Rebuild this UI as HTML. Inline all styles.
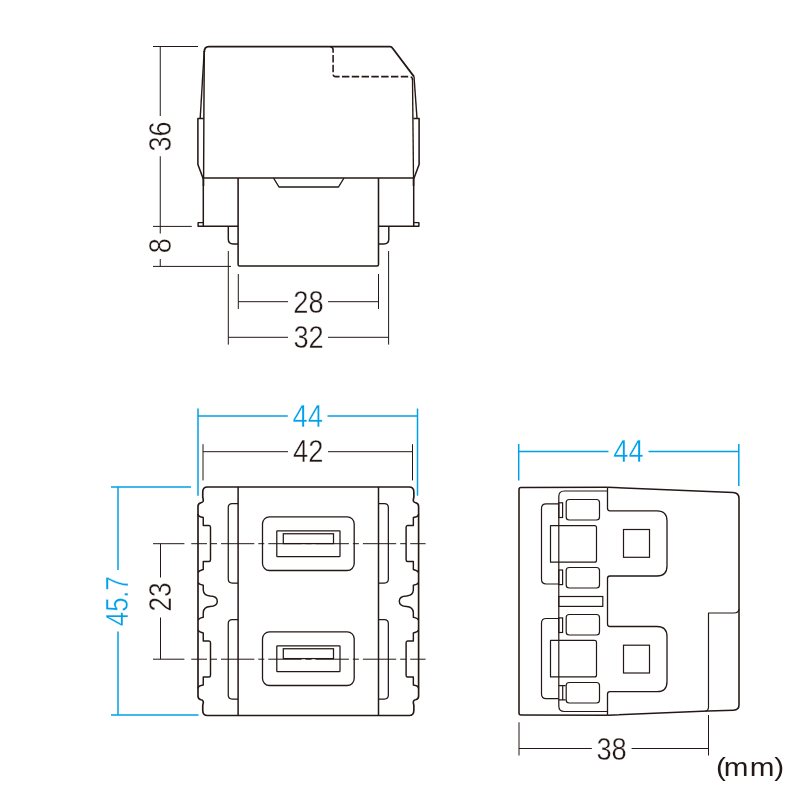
<!DOCTYPE html>
<html lang="en">
<head>
<meta charset="utf-8">
<style>
html,body{margin:0;padding:0;background:#fff;}
body{width:800px;height:800px;overflow:hidden;}
svg{display:block;}
text{font-family:"Liberation Sans","Noto Sans CJK JP",sans-serif;}
</style>
</head>
<body>
<svg width="800" height="800" viewBox="0 0 800 800">
<rect x="0" y="0" width="800" height="800" fill="#fff"/>
<g opacity="0.999">
<text transform="translate(171.0,136.4) rotate(-90) scale(0.845,1)" font-size="32" fill="#231815" text-anchor="middle" stroke="#fff" stroke-width="0.38">36</text>
<text transform="translate(171.0,245.8) rotate(-90) scale(0.845,1)" font-size="32" fill="#231815" text-anchor="middle" stroke="#fff" stroke-width="0.38">8</text>
<text transform="translate(308.4,312.9) scale(0.88,1)" font-size="31.0" fill="#231815" text-anchor="middle" stroke="#fff" stroke-width="0.38">28</text>
<text transform="translate(308.6,347.7) scale(0.88,1)" font-size="31.0" fill="#231815" text-anchor="middle" stroke="#fff" stroke-width="0.38">32</text>
<text transform="translate(307.7,427.2) scale(0.88,1)" font-size="31.0" fill="#00a0e9" text-anchor="middle" stroke="#fff" stroke-width="0.38">44</text>
<text transform="translate(308.2,461.9) scale(0.88,1)" font-size="31.0" fill="#231815" text-anchor="middle" stroke="#fff" stroke-width="0.38">42</text>
<text transform="translate(128,601.2) rotate(-90) scale(0.8,1)" font-size="32" fill="#00a0e9" text-anchor="middle" stroke="#fff" stroke-width="0.38">45.7</text>
<text transform="translate(171.2,597) rotate(-90) scale(0.82,1)" font-size="32" fill="#231815" text-anchor="middle" stroke="#fff" stroke-width="0.38">23</text>
<text transform="translate(628.4,462) scale(0.88,1)" font-size="31.0" fill="#00a0e9" text-anchor="middle" stroke="#fff" stroke-width="0.38">44</text>
<text transform="translate(611.6,759.6) scale(0.88,1)" font-size="31.0" fill="#231815" text-anchor="middle" stroke="#fff" stroke-width="0.38">38</text>
<text transform="translate(0,776.1) scale(1.12,1)" font-size="26.5" fill="#231815" x="639.29 646.16 669.38 691.34">(mm)</text>
</g>
<line x1="153" y1="46.5" x2="198" y2="46.5" stroke="#231815" stroke-width="1.0" />
<line x1="153" y1="226.4" x2="191.75" y2="226.4" stroke="#231815" stroke-width="1.0" />
<line x1="153" y1="266.4" x2="231" y2="266.4" stroke="#231815" stroke-width="1.0" />
<line x1="160.25" y1="46.5" x2="160.25" y2="116" stroke="#231815" stroke-width="1.0" />
<line x1="160.25" y1="156.25" x2="160.25" y2="233.5" stroke="#231815" stroke-width="1.0" />
<line x1="160.25" y1="259" x2="160.25" y2="266.4" stroke="#231815" stroke-width="1.0" />
<line x1="238.3" y1="301.7" x2="288" y2="301.7" stroke="#231815" stroke-width="1.0" />
<line x1="328" y1="301.7" x2="378.5" y2="301.7" stroke="#231815" stroke-width="1.0" />
<line x1="238.3" y1="274" x2="238.3" y2="309" stroke="#231815" stroke-width="1.0" />
<line x1="378.5" y1="274" x2="378.5" y2="309" stroke="#231815" stroke-width="1.0" />
<line x1="228.3" y1="337.3" x2="288" y2="337.3" stroke="#231815" stroke-width="1.0" />
<line x1="328" y1="337.3" x2="388.6" y2="337.3" stroke="#231815" stroke-width="1.0" />
<line x1="228.3" y1="251" x2="228.3" y2="344.6" stroke="#231815" stroke-width="1.0" />
<line x1="388.6" y1="251" x2="388.6" y2="344.6" stroke="#231815" stroke-width="1.0" />
<path d="M204.3,52 Q204.3,46.7 208.8,46.7 L390,46.7 Q391.6,46.7 392.6,48.3 L414,76.6" fill="none" stroke="#231815" stroke-width="1.8" stroke-linejoin="round" stroke-linecap="butt" />
<path d="M204.3,51 L203.9,110 L203.6,178" fill="none" stroke="#231815" stroke-width="1.45" stroke-linejoin="round" stroke-linecap="butt" />
<path d="M204.2,51 L200.2,118.3" fill="none" stroke="#231815" stroke-width="1.4" stroke-linejoin="round" stroke-linecap="butt" />
<path d="M203.8,118.4 L197.9,118.4 L197.9,164.5 L203.5,179.5 L203.5,186" fill="none" stroke="#231815" stroke-width="1.55" stroke-linejoin="round" stroke-linecap="butt" />
<path d="M203.3,178 L203.3,226.3" fill="none" stroke="#231815" stroke-width="1.5" stroke-linejoin="round" stroke-linecap="butt" />
<path d="M203.3,222.6 L198.1,222.6 L198.1,226.3 L238.1,226.3" fill="none" stroke="#231815" stroke-width="1.45" stroke-linejoin="round" stroke-linecap="butt" />
<line x1="203.5" y1="178.05" x2="413.5" y2="178.05" stroke="#231815" stroke-width="1.5" />
<path d="M238.1,178 L238.1,264.5 Q238.1,266 239.6,266 L377,266 Q378.5,266 378.5,264.5 L378.5,178" fill="none" stroke="#231815" stroke-width="1.55" stroke-linejoin="round" stroke-linecap="butt" />
<path d="M273.5,178 L279,187 L338.5,187 L344,178" fill="none" stroke="#231815" stroke-width="1.4" stroke-linejoin="round" stroke-linecap="butt" />
<path d="M228.3,226.3 L228.3,239 Q228.3,244 233.3,244 L238.1,244" fill="none" stroke="#231815" stroke-width="1.45" stroke-linejoin="round" stroke-linecap="butt" />
<path d="M388.8,226.3 L388.8,239 Q388.8,244 383.8,244 L378.5,244" fill="none" stroke="#231815" stroke-width="1.45" stroke-linejoin="round" stroke-linecap="butt" />
<path d="M414,76.5 L417,118.3" fill="none" stroke="#231815" stroke-width="1.4" stroke-linejoin="round" stroke-linecap="butt" />
<path d="M412.5,79 L413.5,178" fill="none" stroke="#231815" stroke-width="1.35" stroke-linejoin="round" stroke-linecap="butt" />
<path d="M413.3,118.4 L419.1,118.4 L419.1,164.5 L413.5,179.5 L413.5,186" fill="none" stroke="#231815" stroke-width="1.55" stroke-linejoin="round" stroke-linecap="butt" />
<path d="M413.7,178 L413.7,226.3" fill="none" stroke="#231815" stroke-width="1.5" stroke-linejoin="round" stroke-linecap="butt" />
<path d="M413.7,222.6 L418.9,222.6 L418.9,226.3 L378.5,226.3" fill="none" stroke="#231815" stroke-width="1.45" stroke-linejoin="round" stroke-linecap="butt" />
<path d="M330.3,46.7 Q333.1,46.9 333.1,50 L333.1,74.1 Q333.1,76.6 335.6,76.6 L409.6,76.6 Q412.3,76.6 412.6,79.6" fill="none" stroke="#231815" stroke-width="1.55" stroke-linejoin="round" stroke-linecap="butt" stroke-dasharray="7.4 2.4"/>
<line x1="198" y1="416" x2="287.8" y2="416" stroke="#00a0e9" stroke-width="1.5" />
<line x1="327.5" y1="416" x2="417.5" y2="416" stroke="#00a0e9" stroke-width="1.5" />
<line x1="198" y1="408.5" x2="198" y2="495.7" stroke="#00a0e9" stroke-width="1.5" />
<line x1="417.5" y1="408.5" x2="417.5" y2="495.7" stroke="#00a0e9" stroke-width="1.5" />
<line x1="118" y1="487" x2="118" y2="570" stroke="#00a0e9" stroke-width="1.5" />
<line x1="118" y1="631.5" x2="118" y2="715" stroke="#00a0e9" stroke-width="1.5" />
<line x1="111" y1="487" x2="191" y2="487" stroke="#00a0e9" stroke-width="1.5" />
<line x1="111" y1="715" x2="198.5" y2="715" stroke="#00a0e9" stroke-width="1.5" />
<line x1="203" y1="451.7" x2="288" y2="451.7" stroke="#231815" stroke-width="1.0" />
<line x1="328" y1="451.7" x2="412.5" y2="451.7" stroke="#231815" stroke-width="1.0" />
<line x1="203" y1="444.2" x2="203" y2="480.4" stroke="#231815" stroke-width="1.0" />
<line x1="412.5" y1="444.2" x2="412.5" y2="480.4" stroke="#231815" stroke-width="1.0" />
<line x1="160.5" y1="543.7" x2="160.5" y2="577.5" stroke="#231815" stroke-width="1.0" />
<line x1="160.5" y1="617.5" x2="160.5" y2="659.2" stroke="#231815" stroke-width="1.0" />
<line x1="153" y1="543.7" x2="184.4" y2="543.7" stroke="#231815" stroke-width="1.0" />
<line x1="191.25" y1="543.7" x2="425.6" y2="543.7" stroke="#231815" stroke-width="1.0" stroke-dasharray="33.3 4 6 4" stroke-dashoffset="17.55"/>
<line x1="153" y1="659.2" x2="184.4" y2="659.2" stroke="#231815" stroke-width="1.0" />
<line x1="191.25" y1="659.2" x2="425.6" y2="659.2" stroke="#231815" stroke-width="1.0" stroke-dasharray="33.3 4 6 4" stroke-dashoffset="17.55"/>
<path d="M207.5,487 L409.1,487 Q413.85,487 413.85,492 L413.85,497.3 Q413.0,500 413.5,501.3 Q414.0,502.5 415.6,502.7 Q418.6,503.3 418.6,506.5 L418.6,696.0 Q418.6,699.2 415.6,699.8 Q414.0,700.0 413.5,701.2 Q413.0,702.5 413.85,705.2 L413.85,710.5 Q413.85,715.5 409.1,715.5 L207.5,715.5 Q202.75,715.5 202.75,710.5 L202.75,705.2 Q203.6,702.5 203.1,701.2 Q202.6,700.0 201,699.8 Q198,699.2 198,696.0 L198,506.5 Q198,503.3 201,502.7 Q202.6,502.5 203.1,501.3 Q203.6,500 202.75,497.3 L202.75,492 Q202.75,487 207.5,487 Z" fill="none" stroke="#231815" stroke-width="1.65" stroke-linejoin="round" stroke-linecap="butt" />
<path d="M198.2,582.4 Q198.8,584 201,584.6 L203.25,585.2 L203.25,590 Q203.6,595.6 210,596 Q217.3,596.2 217.3,601.25 Q217.3,606.3 210,606.5 Q203.6,606.9 203.25,612.5 L203.25,617.3 L201,617.9 Q198.8,618.5 198.2,620.1" fill="none" stroke="#231815" stroke-width="1.45" stroke-linejoin="round" stroke-linecap="butt" />
<path d="M418.4,582.4 Q417.8,584 415.6,584.6 L413.35,585.2 L413.35,590 Q413.0,595.6 406.6,596 Q399.3,596.2 399.3,601.25 Q399.3,606.3 406.6,606.5 Q413.0,606.9 413.35,612.5 L413.35,617.3 L415.6,617.9 Q417.8,618.5 418.4,620.1" fill="none" stroke="#231815" stroke-width="1.45" stroke-linejoin="round" stroke-linecap="butt" />
<path d="M 198,514 Q 198.3,516.6 201,517 L 203.25,517.5 L 203.25,525.5 L 209,525.5 Q 210.5,525.5 210.5,527.3 L 210.5,559.7 Q 210.5,561.5 209,561.5 L 203.25,561.5 L 203.25,569.5 L 201,570.2 Q 198.8,570.8 198.2,572.6" fill="none" stroke="#231815" stroke-width="1.45" stroke-linejoin="round" stroke-linecap="butt" />
<path d="M 238.1,503.5 L 232.25,503.5 Q 228.25,503.5 228.25,507.5 L 228.25,579 Q 228.25,583 232.25,583 L 238.1,583" fill="none" stroke="#231815" stroke-width="1.25" stroke-linejoin="round" stroke-linecap="butt" />
<path d="M 198,688.5 Q 198.3,685.9 201,685.5 L 203.25,685.0 L 203.25,677.0 L 209,677.0 Q 210.5,677.0 210.5,675.2 L 210.5,642.8 Q 210.5,641.0 209,641.0 L 203.25,641.0 L 203.25,633.0 L 201,632.3 Q 198.8,631.7 198.2,629.9" fill="none" stroke="#231815" stroke-width="1.45" stroke-linejoin="round" stroke-linecap="butt" />
<path d="M 238.1,699.0 L 232.25,699.0 Q 228.25,699.0 228.25,695.0 L 228.25,623.5 Q 228.25,619.5 232.25,619.5 L 238.1,619.5" fill="none" stroke="#231815" stroke-width="1.25" stroke-linejoin="round" stroke-linecap="butt" />
<line x1="238.1" y1="487" x2="238.1" y2="715.5" stroke="#231815" stroke-width="1.5" />
<path d="M 418.6,514 Q 418.3,516.6 415.6,517 L 413.35,517.5 L 413.35,525.5 L 407.6,525.5 Q 406.1,525.5 406.1,527.3 L 406.1,559.7 Q 406.1,561.5 407.6,561.5 L 413.35,561.5 L 413.35,569.5 L 415.6,570.2 Q 417.8,570.8 418.4,572.6" fill="none" stroke="#231815" stroke-width="1.45" stroke-linejoin="round" stroke-linecap="butt" />
<path d="M 378.5,503.5 L 384.35,503.5 Q 388.35,503.5 388.35,507.5 L 388.35,579 Q 388.35,583 384.35,583 L 378.5,583" fill="none" stroke="#231815" stroke-width="1.25" stroke-linejoin="round" stroke-linecap="butt" />
<path d="M 418.6,688.5 Q 418.3,685.9 415.6,685.5 L 413.35,685.0 L 413.35,677.0 L 407.6,677.0 Q 406.1,677.0 406.1,675.2 L 406.1,642.8 Q 406.1,641.0 407.6,641.0 L 413.35,641.0 L 413.35,633.0 L 415.6,632.3 Q 417.8,631.7 418.4,629.9" fill="none" stroke="#231815" stroke-width="1.45" stroke-linejoin="round" stroke-linecap="butt" />
<path d="M 378.5,699.0 L 384.35,699.0 Q 388.35,699.0 388.35,695.0 L 388.35,623.5 Q 388.35,619.5 384.35,619.5 L 378.5,619.5" fill="none" stroke="#231815" stroke-width="1.25" stroke-linejoin="round" stroke-linecap="butt" />
<line x1="378.5" y1="487" x2="378.5" y2="715.5" stroke="#231815" stroke-width="1.5" />
<rect x="262.5" y="516.8" width="91.7" height="53.7" rx="7" ry="7" fill="none" stroke="#231815" stroke-width="1.3"/>
<rect x="276.8" y="530.75" width="63.2" height="25.95" rx="0.6" ry="0.6" fill="none" stroke="#231815" stroke-width="1.25"/>
<rect x="283.3" y="533.75" width="50.2" height="9.85" rx="0" ry="0" fill="none" stroke="#231815" stroke-width="1.25"/>
<rect x="262.5" y="631.8" width="91.7" height="53.7" rx="7" ry="7" fill="none" stroke="#231815" stroke-width="1.3"/>
<rect x="276.8" y="645.75" width="63.2" height="25.95" rx="0.6" ry="0.6" fill="none" stroke="#231815" stroke-width="1.25"/>
<rect x="283.3" y="648.75" width="50.2" height="9.85" rx="0" ry="0" fill="none" stroke="#231815" stroke-width="1.25"/>
<line x1="518.7" y1="451.5" x2="608.5" y2="451.5" stroke="#00a0e9" stroke-width="1.5" />
<line x1="648.5" y1="451.5" x2="738.8" y2="451.5" stroke="#00a0e9" stroke-width="1.5" />
<line x1="518.7" y1="444" x2="518.7" y2="480.5" stroke="#00a0e9" stroke-width="1.5" />
<line x1="738.8" y1="444" x2="738.8" y2="486" stroke="#00a0e9" stroke-width="1.5" />
<line x1="519" y1="748.5" x2="591.8" y2="748.5" stroke="#231815" stroke-width="1.0" />
<line x1="631.6" y1="748.5" x2="708.5" y2="748.5" stroke="#231815" stroke-width="1.0" />
<line x1="519" y1="722.3" x2="519" y2="755.5" stroke="#231815" stroke-width="1.0" />
<line x1="708.5" y1="715" x2="708.5" y2="755.5" stroke="#231815" stroke-width="1.0" />
<path d="M607.5,487.2 L521,487.4 Q519,487.4 519,489.4 L519,713 Q519,715 521,715 L607.5,715.2" fill="none" stroke="#231815" stroke-width="1.55" stroke-linejoin="round" stroke-linecap="butt" />
<path d="M607.5,487.2 L733,492.6 Q739,492.9 739,498.5 L739,705 Q739,710 733.5,710.2 L708,711 L607.5,715.2" fill="none" stroke="#231815" stroke-width="1.55" stroke-linejoin="round" stroke-linecap="butt" />
<path d="M739,609 Q738.6,613 734,613 L708.5,613 L708.5,707.5 Q708.3,710.5 705.5,711.1" fill="none" stroke="#231815" stroke-width="1.15" stroke-linejoin="round" stroke-linecap="butt" />
<path d="M607.5,491 L564.3,491 Q558.8,491 558.8,496.5 L558.8,706 Q558.8,711.5 564.3,711.5 L607.5,711.5" fill="none" stroke="#231815" stroke-width="1.2" stroke-linejoin="round" stroke-linecap="butt" />
<path d="M607.5,487.3 L607.5,508.3 Q607.5,510.8 610,510.8 L657,510.8 Q667,510.8 667,520.8 L667,566 Q667,576 657,576 L610,576 Q607.5,576 607.5,578.5 L607.5,624.0 Q607.5,626.5 610,626.5 L657,626.5 Q667,626.5 667,636.5 L667,681.7 Q667,691.7 657,691.7 L610,691.7 Q607.5,691.7 607.5,694.2 L607.5,715.2" fill="none" stroke="#231815" stroke-width="1.3" stroke-linejoin="round" stroke-linecap="butt" />
<rect x="623.5" y="529.5" width="26.0" height="27.8" rx="0" ry="0" fill="none" stroke="#231815" stroke-width="1.2"/>
<rect x="623.5" y="645.2" width="26.0" height="27.8" rx="0" ry="0" fill="none" stroke="#231815" stroke-width="1.2"/>
<rect x="566.2" y="499.5" width="33.3" height="20.5" rx="3" ry="3" fill="none" stroke="#231815" stroke-width="1.2"/>
<rect x="566.2" y="682.5" width="33.3" height="20.5" rx="3" ry="3" fill="none" stroke="#231815" stroke-width="1.2"/>
<rect x="566.2" y="567.5" width="33.3" height="20.5" rx="3" ry="3" fill="none" stroke="#231815" stroke-width="1.2"/>
<rect x="566.2" y="614.5" width="33.3" height="20.5" rx="3" ry="3" fill="none" stroke="#231815" stroke-width="1.2"/>
<path d="M 594.5,525.6 L 550.5,525.6 L 550.5,562.2 L 594.5,562.2 Q 596.5,562.2 596.5,560.2 L 596.5,527.6 Q 596.5,525.6 594.5,525.6 Z" fill="none" stroke="#231815" stroke-width="1.2" stroke-linejoin="round" stroke-linecap="butt" />
<path d="M 594.5,676.9 L 550.5,676.9 L 550.5,640.3 L 594.5,640.3 Q 596.5,640.3 596.5,642.3 L 596.5,674.9 Q 596.5,676.9 594.5,676.9 Z" fill="none" stroke="#231815" stroke-width="1.2" stroke-linejoin="round" stroke-linecap="butt" />
<rect x="558.8" y="502.8" width="3.8" height="14.7" rx="0" ry="0" fill="none" stroke="#231815" stroke-width="1.2"/>
<path d="M558.8,685.6 L565.6,685.6 M558.8,699.8 L565.6,699.8 M562.7,685.6 L562.7,699.8" fill="none" stroke="#231815" stroke-width="1.2" stroke-linejoin="round" stroke-linecap="butt" />
<rect x="558.8" y="570" width="3.8" height="14.6" rx="0" ry="0" fill="none" stroke="#231815" stroke-width="1.2"/>
<rect x="558.8" y="617.9" width="3.8" height="14.6" rx="0" ry="0" fill="none" stroke="#231815" stroke-width="1.2"/>
<rect x="558.8" y="596.5" width="44.0" height="9.9" rx="0" ry="0" fill="none" stroke="#231815" stroke-width="1.2"/>
<path d="M 558.8,503.8 L 546.2,503.8 Q 541.5,503.8 541.5,508.5 L 541.5,579.3 Q 541.5,584 546.2,584 L 558.8,584" fill="none" stroke="#231815" stroke-width="1.2" stroke-linejoin="round" stroke-linecap="butt" />
<path d="M 558.8,698.7 L 546.2,698.7 Q 541.5,698.7 541.5,694.0 L 541.5,623.2 Q 541.5,618.5 546.2,618.5 L 558.8,618.5" fill="none" stroke="#231815" stroke-width="1.2" stroke-linejoin="round" stroke-linecap="butt" />
</svg>
</body>
</html>
